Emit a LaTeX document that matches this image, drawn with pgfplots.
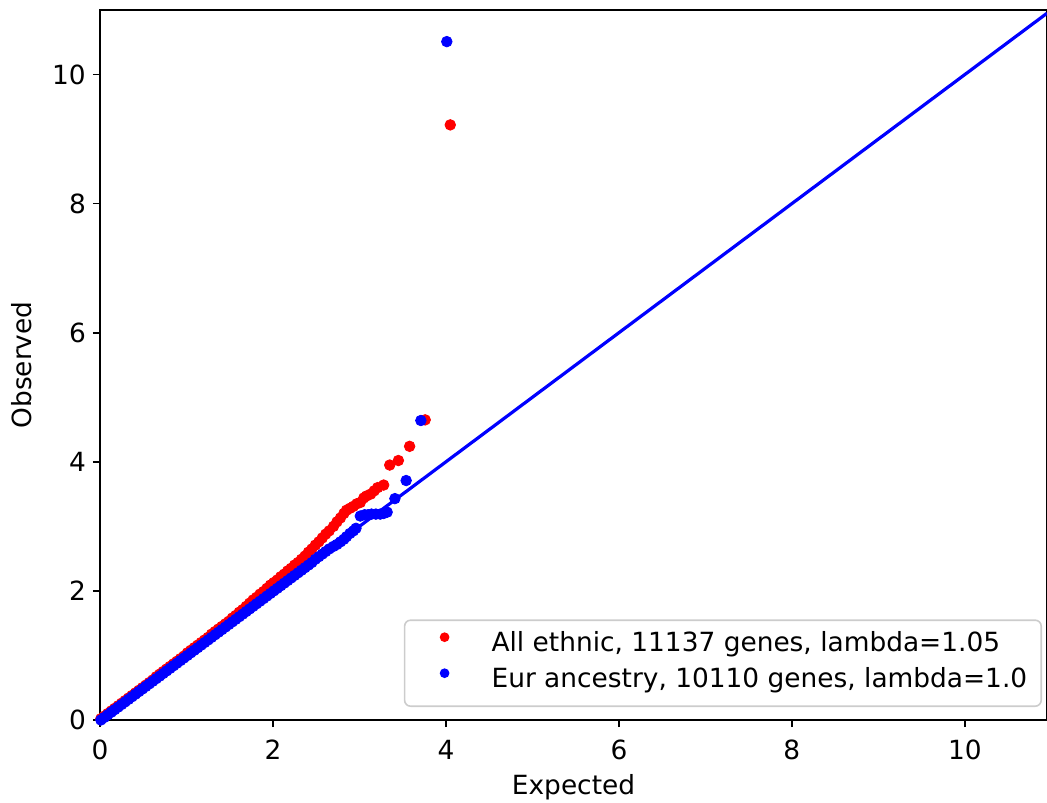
\documentclass[border=0pt]{standalone}
\usepackage{fontspec}
\setmainfont{DejaVu Sans}
\usepackage{pgfplots}
\pgfplotsset{compat=1.18}
\begin{document}
\fontsize{13.2pt}{15pt}\selectfont
\begin{tikzpicture}
\begin{axis}[
  name=ax,
  scale only axis,
  width=473.5pt, height=355pt,
  xmin=0, xmax=10.95, ymin=0, ymax=11.0,
  xtick={0,2,4,6,8,10}, ytick={0,2,4,6,8,10},
  /pgf/number format/assume math mode=true,
  tick align=outside, tick pos=left,
  major tick length=3.5pt,
  every tick/.style={black, line width=0.8pt},
  axis line style={line width=0.8pt},
  xlabel={Expected}, ylabel={Observed},
  tick label style={font=\fontsize{13.2pt}{15pt}\selectfont},
  xticklabel style={yshift=-2pt},
  yticklabel style={xshift=1pt},
  label style={font=\fontsize{13.2pt}{15pt}\selectfont},
  every axis x label/.style={at={(rel axis cs:0.5,0)}, anchor=center, yshift=-33.5pt},
  every axis y label/.style={at={(rel axis cs:0,0.5)}, anchor=center, rotate=90, yshift=39pt},
  legend style={at={(rel axis cs:1,0)}, anchor=south east, xshift=-2.5pt, yshift=6.5pt,
    draw=black!20, line width=0.8pt, rounded corners=3pt, fill=white,
    font=\fontsize{13.2pt}{15pt}\selectfont,
    inner xsep=4pt, inner ysep=3.75pt, row sep=0.5pt,
    nodes={inner sep=3pt, inner ysep=2pt, text height=10pt, text depth=3.5pt}},
  legend cell align=left,
  legend image code/.code={\path[draw=none, fill=none, sharp corners] (0pt,0pt) -- (36.5pt,0pt); \fill[#1, sharp corners] (16pt,4pt) circle (2pt);},
]
\addlegendimage{red}
\addlegendentry{All ethnic, 11137 genes, lambda=1.05}
\addlegendimage{blue}
\addlegendentry{Eur ancestry, 10110 genes, lambda=1.0}

\addplot[forget plot, only marks, mark=*, mark size=2.65pt, color=red, mark options={draw=none, fill=red}] coordinates {
(0.01,0.02) (0.05,0.06) (0.09,0.10) (0.13,0.14) (0.17,0.18) (0.21,0.22)
(0.25,0.26) (0.29,0.30) (0.33,0.34) (0.37,0.38) (0.41,0.42) (0.45,0.46)
(0.49,0.50) (0.53,0.54) (0.57,0.58) (0.61,0.62) (0.65,0.67) (0.69,0.71)
(0.73,0.75) (0.77,0.79) (0.81,0.83) (0.85,0.87) (0.89,0.91) (0.93,0.95)
(0.97,0.99) (1.01,1.04) (1.05,1.08) (1.09,1.12) (1.13,1.16) (1.17,1.20)
(1.21,1.24) (1.25,1.28) (1.29,1.33) (1.33,1.37) (1.37,1.41) (1.41,1.45)
(1.45,1.49) (1.49,1.53) (1.53,1.58) (1.57,1.62) (1.61,1.67) (1.65,1.71)
(1.69,1.76) (1.73,1.81) (1.77,1.86) (1.81,1.90) (1.85,1.95) (1.89,1.99)
(1.93,2.04) (1.97,2.09) (2.01,2.13) (2.05,2.17) (2.09,2.22) (2.13,2.26)
(2.17,2.31) (2.21,2.35) (2.25,2.40) (2.29,2.44) (2.33,2.49) (2.37,2.54)
(2.41,2.60) (2.45,2.65) (2.49,2.71) (2.53,2.76) (2.57,2.82) (2.61,2.88)
(2.65,2.93) (2.70,3.00) (2.74,3.07) (2.78,3.13) (2.82,3.20) (2.85,3.25)
(2.89,3.28) (2.93,3.31) (2.97,3.35) (3.01,3.37) (3.05,3.44) (3.08,3.47)
(3.13,3.50) (3.17,3.55) (3.21,3.60) (3.28,3.64) (3.35,3.95) (3.45,4.02)
(3.58,4.24) (3.76,4.65) (4.05,9.22)
};
\addplot[forget plot, only marks, mark=*, mark size=2.65pt, color=blue, mark options={draw=none, fill=blue}] coordinates {
(0.01,0.00) (0.05,0.04) (0.09,0.08) (0.13,0.12) (0.17,0.16) (0.21,0.20)
(0.25,0.24) (0.29,0.28) (0.33,0.32) (0.37,0.36) (0.41,0.40) (0.45,0.44)
(0.49,0.48) (0.53,0.52) (0.57,0.56) (0.61,0.60) (0.65,0.64) (0.69,0.68)
(0.73,0.72) (0.77,0.76) (0.81,0.80) (0.85,0.84) (0.89,0.88) (0.93,0.92)
(0.97,0.96) (1.01,1.00) (1.05,1.04) (1.09,1.08) (1.13,1.12) (1.17,1.16)
(1.21,1.20) (1.25,1.24) (1.29,1.28) (1.33,1.32) (1.37,1.36) (1.41,1.40)
(1.45,1.44) (1.49,1.48) (1.53,1.52) (1.57,1.56) (1.61,1.60) (1.65,1.64)
(1.69,1.68) (1.73,1.72) (1.77,1.76) (1.81,1.80) (1.85,1.84) (1.89,1.88)
(1.93,1.92) (1.97,1.96) (2.01,2.00) (2.05,2.04) (2.09,2.08) (2.13,2.12)
(2.17,2.16) (2.21,2.20) (2.25,2.24) (2.29,2.28) (2.33,2.32) (2.37,2.36)
(2.41,2.40) (2.45,2.44) (2.49,2.49) (2.53,2.53) (2.57,2.57) (2.61,2.61)
(2.65,2.65) (2.70,2.69) (2.74,2.72) (2.78,2.76) (2.82,2.80) (2.85,2.84)
(2.89,2.89) (2.93,2.93) (2.96,2.97) (3.01,3.16) (3.06,3.18) (3.10,3.18)
(3.14,3.19) (3.19,3.19) (3.24,3.19) (3.28,3.20) (3.32,3.22) (3.41,3.43)
(3.54,3.71) (3.71,4.64) (4.01,10.51)
};
\addplot[forget plot, blue, line width=1.6pt] coordinates {(0,0) (10.95,10.95)};
\end{axis}
\pgfresetboundingbox
\path[use as bounding box] ([xshift=-50pt,yshift=-41pt]ax.south west) rectangle ([yshift=5pt]ax.north east);
\end{tikzpicture}
\end{document}
